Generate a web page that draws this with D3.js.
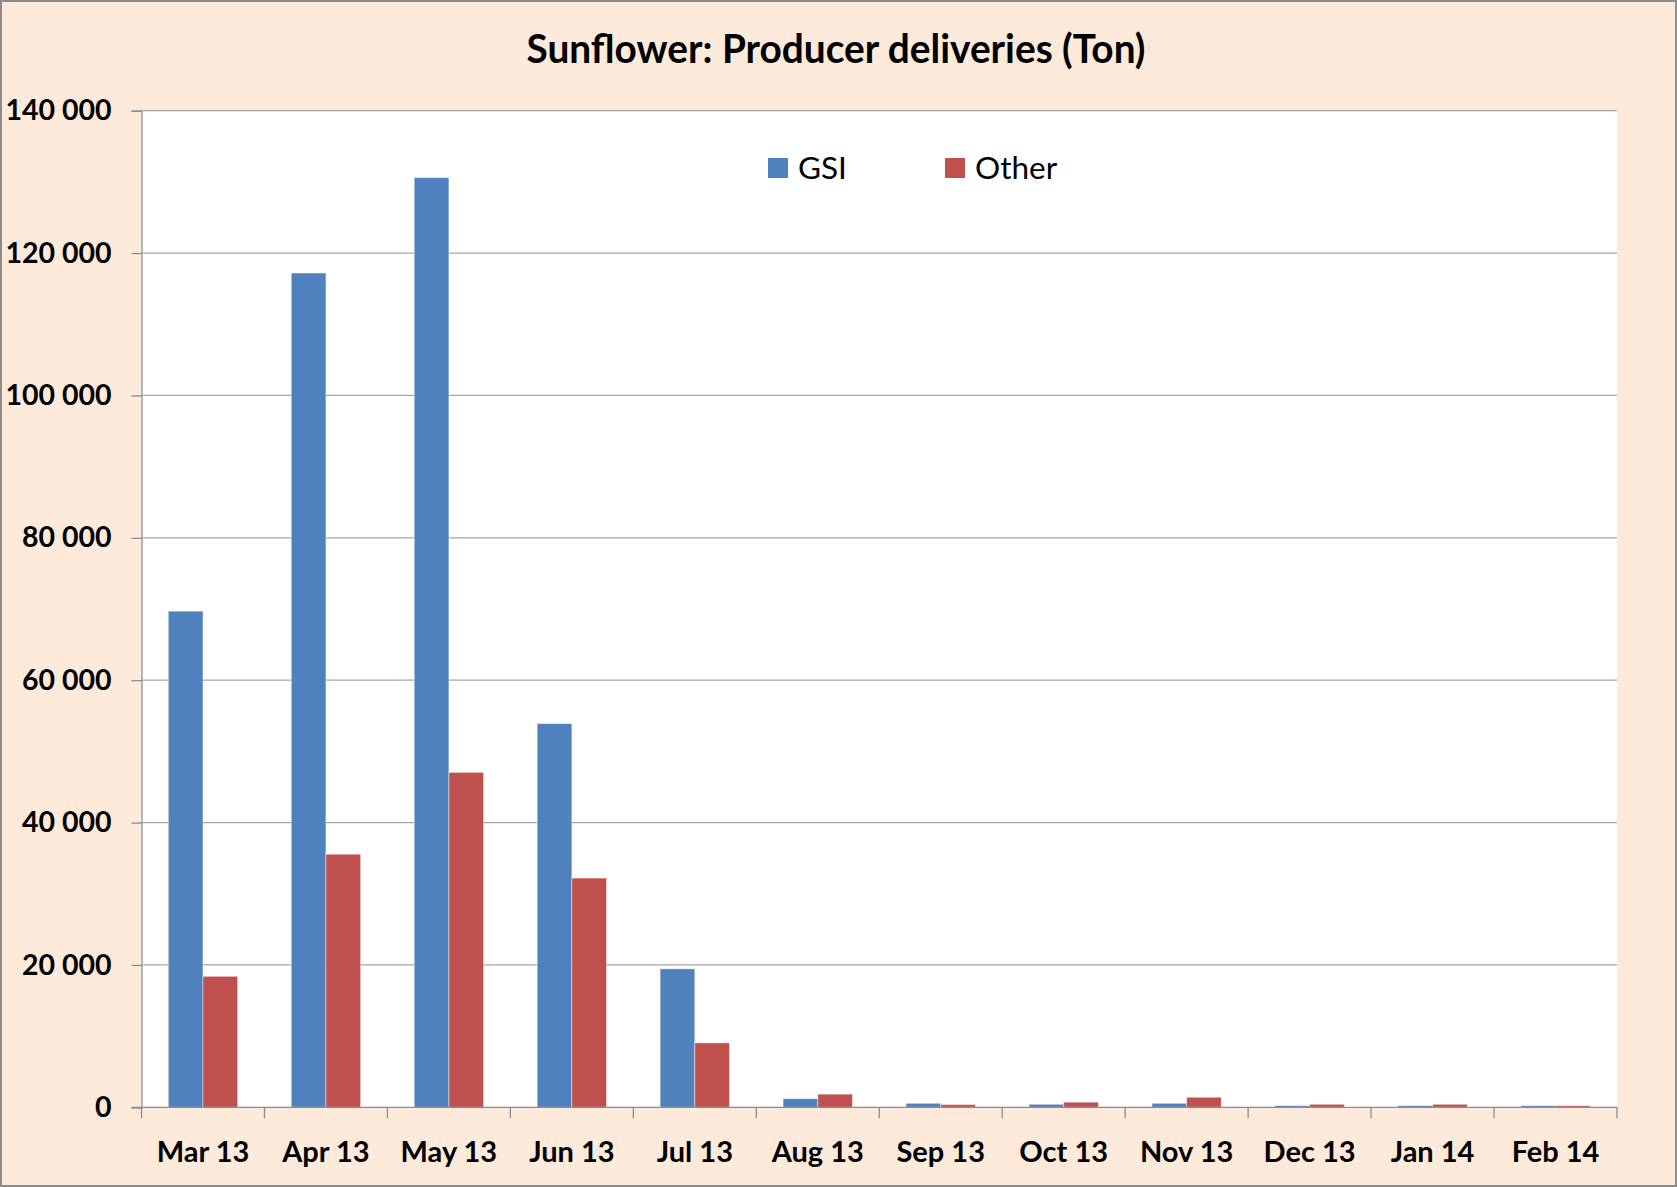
<!DOCTYPE html>
<html>
<head>
<meta charset="utf-8">
<script src="https://cdn.jsdelivr.net/npm/d3@7"></script>
<style>
  body { margin: 0; background: #fff; }
  text { font-family: Lato, "Liberation Sans", sans-serif; }
</style>
</head>
<body>
<div class="chart"></div>
<script>
// chart data
var months = ["Mar 13", "Apr 13", "May 13", "Jun 13", "Jul 13", "Aug 13",
              "Sep 13", "Oct 13", "Nov 13", "Dec 13", "Jan 14", "Feb 14"];
var seriesNames = ["GSI", "Other"];
var gsiValues = [69700, 117200, 130600, 53900, 19450, 1210, 560, 420, 560, 230, 230, 230];
var otherValues = [18400, 35550, 47050, 32200, 9050, 1850, 380, 720, 1410, 420, 420, 230];
var yTicks = [0, 20000, 40000, 60000, 80000, 100000, 120000, 140000];
var colors = ["#4F81BD", "#C0504D"];

var svgWidth = 1677, svgHeight = 1187;
var plot = { left: 141.5, right: 1617, top: 110.7, bottom: 1107.3 };

var svg = d3.select(".chart")
  .append("svg")
  .attr("width", svgWidth)
  .attr("height", svgHeight);

// chart background + border
svg.append("rect")
  .attr("x", 1).attr("y", 1)
  .attr("width", svgWidth - 2).attr("height", svgHeight - 2)
  .attr("fill", "#FDEADA")
  .attr("stroke", "#8c8c8c")
  .attr("stroke-width", 2);

// plot area
svg.append("rect")
  .attr("x", plot.left).attr("y", plot.top)
  .attr("width", plot.right - plot.left).attr("height", plot.bottom - plot.top)
  .attr("fill", "#fff");

// scales
var x = d3.scaleBand()
  .domain(months)
  .range([plot.left, plot.right]);

var bw = x.bandwidth();
var xSub = d3.scaleBand()
  .domain(seriesNames)
  .range([bw * 0.218, bw * 0.782]);

var y = d3.scaleLinear()
  .domain([0, 140000])
  .range([plot.bottom, plot.top]);

var fmt = function(v) { return d3.format(",")(v).replace(/,/g, " "); };

// gridlines
svg.append("g")
  .selectAll("line")
  .data(yTicks.filter(function(d) { return d > 0; }))
  .enter()
  .append("line")
  .attr("x1", plot.left).attr("x2", plot.right)
  .attr("y1", d => y(d)).attr("y2", d => y(d))
  .attr("stroke", "#a6a6a6")
  .attr("stroke-width", 1.3);

// bars
var data = months.map(function(m, i) {
  return { month: m, values: [gsiValues[i], otherValues[i]] };
});

var groups = svg.append("g")
  .selectAll("g")
  .data(data)
  .enter()
  .append("g")
  .attr("transform", d => `translate(${x(d.month)},0)`);

groups.selectAll("rect")
  .data(d => d.values.map((v, j) => ({ key: seriesNames[j], value: v, idx: j })))
  .enter()
  .append("rect")
  .attr("x", d => xSub(d.key))
  .attr("width", xSub.bandwidth())
  .attr("y", d => y(d.value))
  .attr("height", d => y(0) - y(d.value))
  .attr("fill", d => colors[d.idx])
  .attr("stroke", "rgba(255,255,255,0.45)")
  .attr("stroke-width", 1);

// y axis
var yAxis = d3.axisLeft(y)
  .tickValues(yTicks)
  .tickSize(10)
  .tickPadding(20)
  .tickFormat(fmt);

var yG = svg.append("g")
  .attr("transform", `translate(${plot.left},0)`)
  .call(yAxis);
yG.select(".domain").attr("stroke", "#8c8c8c").attr("stroke-width", 1.3);
yG.selectAll(".tick line").attr("stroke", "#8c8c8c").attr("stroke-width", 1.3);
yG.selectAll(".tick text")
  .attr("font-family", "Lato, 'Liberation Sans', sans-serif")
  .attr("font-size", 28.5)
  .attr("font-weight", "bold")
  .attr("fill", "#000");

// x axis: line + ticks on category boundaries
var xG = svg.append("g");
xG.append("line")
  .attr("x1", plot.left - 10).attr("x2", plot.right)
  .attr("y1", plot.bottom).attr("y2", plot.bottom)
  .attr("stroke", "#8c8c8c")
  .attr("stroke-width", 1.3);

var bounds = months.map(m => x(m)).concat([x(months[months.length - 1]) + bw]);
xG.selectAll(".xtick")
  .data(bounds)
  .enter()
  .append("line")
  .attr("class", "xtick")
  .attr("x1", d => d).attr("x2", d => d)
  .attr("y1", plot.bottom).attr("y2", plot.bottom + 11)
  .attr("stroke", "#8c8c8c")
  .attr("stroke-width", 1.3);

xG.selectAll(".xlabel")
  .data(months)
  .enter()
  .append("text")
  .attr("class", "xlabel")
  .attr("x", d => x(d) + bw / 2)
  .attr("y", 1162)
  .attr("text-anchor", "middle")
  .attr("font-size", 29)
  .attr("font-weight", "bold")
  .attr("fill", "#000")
  .text(d => d);

// title
svg.append("text")
  .attr("x", 836)
  .attr("y", 63)
  .attr("text-anchor", "middle")
  .attr("font-size", 41)
  .attr("font-weight", "bold")
  .attr("fill", "#000")
  .attr("textLength", 619)
  .attr("lengthAdjust", "spacingAndGlyphs")
  .text("Sunflower: Producer deliveries (Ton)");

// legend
var legendX = [768, 945];
var legend = svg.append("g")
  .selectAll("g")
  .data(seriesNames)
  .enter()
  .append("g")
  .attr("transform", (d, i) => `translate(${legendX[i]},158)`);

legend.append("rect")
  .attr("width", 20).attr("height", 20)
  .attr("fill", (d, i) => colors[i]);

legend.append("text")
  .attr("x", 30)
  .attr("y", 21)
  .attr("font-size", 31.5)
  .attr("fill", "#000")
  .text(d => d);
</script>
</body>
</html>
